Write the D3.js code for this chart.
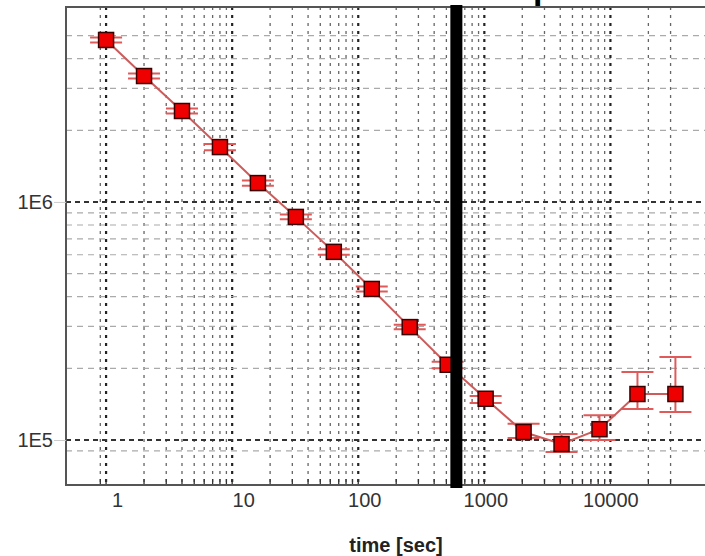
<!DOCTYPE html>
<html lang='en'>
<head>
  <meta charset='utf-8'/>
  <title>time [sec]</title>
  <script src='https://d3js.org/d3.v7.min.js'></script>
  <style>
    body{margin:0;background:#ffffff;font-family:'Liberation Sans',Arial,sans-serif;}
  </style>
</head>
<body>
<svg id='chart'></svg>
<script>
// Data
const times  = [1, 2, 4, 8, 16, 32, 64, 128, 256, 512, 1024, 2048, 4096, 8192, 16384, 32768];
const values = [4.79e6, 3.38e6, 2.41e6, 1.70e6, 1.20e6, 8.65e5, 6.17e5, 4.31e5, 2.98e5, 2.07e5,
                1.49e5, 1.08e5, 9.62e4, 1.11e5, 1.56e5, 1.56e5];
const errLow  = [4.67e6, 3.30e6, 2.35e6, 1.65e6, 1.17e6, 8.45e5, 6.00e5, 4.21e5, 2.92e5, 2.00e5,
                 1.43e5, 1.02e5, 8.90e4, 1.00e5, 1.35e5, 1.31e5];
const errHigh = [4.91e6, 3.46e6, 2.47e6, 1.75e6, 1.23e6, 8.85e5, 6.33e5, 4.41e5, 3.05e5, 2.13e5,
                 1.53e5, 1.17e5, 1.06e5, 1.27e5, 1.93e5, 2.23e5];
const xTicks = [1, 10, 100, 1000, 10000];
const xTickLabels = ['1', '10', '100', '1000', '10000'];
const yTicks = [1e5, 1e6];
const yTickLabels = ['1E5', '1E6'];
const xMinorGrid = [0.9, 2, 3, 4, 5, 6, 7, 8, 9, 20, 30, 40, 50, 60, 70, 80, 90,
                    200, 300, 400, 500, 600, 700, 800, 900, 2000, 3000, 4000, 5000,
                    6000, 7000, 8000, 9000, 20000, 30000];
const yMinorGrid = [9e4, 2e5, 3e5, 4e5, 5e5, 6e5, 7e5, 8e5, 9e5, 2e6, 3e6, 4e6, 5e6];
const markerTime = 600; // thick black vertical marker

const W = 705, H = 556;
const plot = {left: 66, right: 705, top: 7, bottom: 485};

const svg = d3.select('#chart').attr('width', W).attr('height', H);

const x = d3.scaleLog().domain([0.481, 56250]).range([plot.left, plot.right]);
const y = d3.scaleLog().domain([6.47e4, 6.59e6]).range([plot.bottom, plot.top]);

const grid = svg.append('g');

// vertical gridlines (dotted)
grid.selectAll('.vminor').data(xMinorGrid).enter().append('line')
  .attr('x1', d => x(d)).attr('x2', d => x(d))
  .attr('y1', plot.top).attr('y2', plot.bottom)
  .attr('stroke', '#666').attr('stroke-width', 1.3)
  .attr('stroke-dasharray', '3,5');
grid.selectAll('.vmajor').data(xTicks).enter().append('line')
  .attr('x1', d => x(d)).attr('x2', d => x(d))
  .attr('y1', plot.top).attr('y2', plot.bottom)
  .attr('stroke', '#222').attr('stroke-width', 2.2)
  .attr('stroke-dasharray', '3,5');

// horizontal gridlines (dashed)
grid.selectAll('.hminor').data(yMinorGrid).enter().append('line')
  .attr('x1', plot.left).attr('x2', plot.right)
  .attr('y1', d => y(d)).attr('y2', d => y(d))
  .attr('stroke', '#aaa').attr('stroke-width', 1.2)
  .attr('stroke-dasharray', '6,5');
grid.selectAll('.hmajor').data(yTicks).enter().append('line')
  .attr('x1', plot.left).attr('x2', plot.right)
  .attr('y1', d => y(d)).attr('y2', d => y(d))
  .attr('stroke', '#333').attr('stroke-width', 2)
  .attr('stroke-dasharray', '5,4');

// small ticks along the bottom
grid.selectAll('.btick').data(xTicks.concat(xMinorGrid)).enter().append('line')
  .attr('x1', d => x(d)).attr('x2', d => x(d))
  .attr('y1', plot.bottom - 6).attr('y2', plot.bottom)
  .attr('stroke', '#333').attr('stroke-width', 1.3);

// frame
svg.append('path')
  .attr('d', `M${plot.right},${plot.top}H${plot.left}V${plot.bottom}H${plot.right}`)
  .attr('fill', 'none').attr('stroke', '#555').attr('stroke-width', 2);

// axes labels
const labelShift = [11, 11, 6, 1, 0];
const xAxis = svg.append('g')
  .attr('transform', `translate(0,${plot.bottom})`)
  .call(d3.axisBottom(x).tickValues(xTicks).tickSize(0).tickPadding(8)
    .tickFormat((d, i) => xTickLabels[i]));
xAxis.select('.domain').remove();
xAxis.selectAll('text')
  .attr('dx', (d, i) => labelShift[i])
  .attr('font-family', "'Liberation Sans', Arial, sans-serif")
  .attr('font-size', 20).attr('fill', '#333');

const yAxis = svg.append('g')
  .attr('transform', `translate(${plot.left},0)`)
  .call(d3.axisLeft(y).tickValues(yTicks).tickSize(12).tickPadding(1)
    .tickFormat((d, i) => yTickLabels[i]));
yAxis.select('.domain').remove();
yAxis.selectAll('line').attr('stroke', '#ccc').attr('stroke-width', 1);
yAxis.selectAll('text')
  .attr('font-family', "'Liberation Sans', Arial, sans-serif")
  .attr('font-size', 20).attr('fill', '#333');

svg.append('text')
  .attr('x', 396).attr('y', 552)
  .attr('text-anchor', 'middle')
  .attr('font-family', "'Liberation Sans', Arial, sans-serif")
  .attr('font-weight', 'bold').attr('font-size', 20).attr('fill', '#222')
  .text('time [sec]');

// title cut off by the top edge: only the descender of "p" shows
svg.append('text')
  .attr('x', 533).attr('y', -1)
  .attr('font-family', "'Liberation Sans', Arial, sans-serif")
  .attr('font-weight', 'bold').attr('font-size', 34).attr('fill', '#000')
  .text('p');

// data
const pts = times.map((t, i) => ({t, v: values[i], lo: errLow[i], hi: errHigh[i]}));
const errColor = '#e05a5a';
const capW = 32;

const eb = svg.append('g');
eb.selectAll('.ev').data(pts).enter().append('line')
  .attr('x1', d => x(d.t)).attr('x2', d => x(d.t))
  .attr('y1', d => y(d.lo)).attr('y2', d => y(d.hi))
  .attr('stroke', errColor).attr('stroke-width', 2);
eb.selectAll('.ehi').data(pts).enter().append('line')
  .attr('x1', d => x(d.t) - capW / 2).attr('x2', d => x(d.t) + capW / 2)
  .attr('y1', d => y(d.hi)).attr('y2', d => y(d.hi))
  .attr('stroke', errColor).attr('stroke-width', 2);
eb.selectAll('.elo').data(pts).enter().append('line')
  .attr('x1', d => x(d.t) - capW / 2).attr('x2', d => x(d.t) + capW / 2)
  .attr('y1', d => y(d.lo)).attr('y2', d => y(d.lo))
  .attr('stroke', errColor).attr('stroke-width', 2);

svg.append('path')
  .datum(pts)
  .attr('fill', 'none').attr('stroke', '#cc5c5c').attr('stroke-width', 2)
  .attr('d', d3.line().x(d => x(d.t)).y(d => y(d.v)));

const ms = 15;
svg.selectAll('.marker').data(pts).enter().append('rect')
  .attr('x', d => x(d.t) - ms / 2).attr('y', d => y(d.v) - ms / 2)
  .attr('width', ms).attr('height', ms)
  .attr('fill', '#ee0000').attr('stroke', '#3a0000').attr('stroke-width', 1.5);

// thick black vertical bar
svg.append('rect')
  .attr('x', x(markerTime) - 6).attr('y', 5)
  .attr('width', 12).attr('height', 483)
  .attr('fill', '#000');
</script>
</body>
</html>
